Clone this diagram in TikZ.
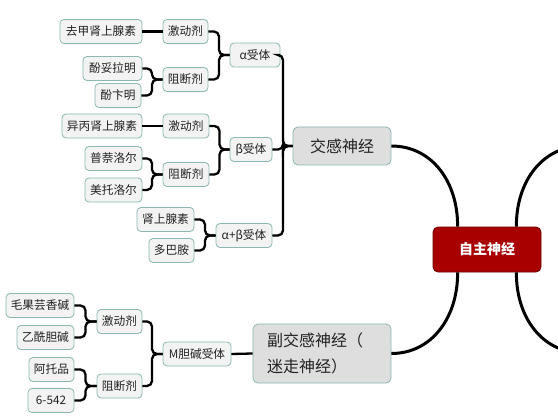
\documentclass[tikz,border=0pt]{standalone}
\usepackage{fontspec}
\setmainfont{Noto Sans CJK SC}
\definecolor{leaff}{HTML}{F3F3F3}
\definecolor{mainf}{HTML}{DEDEDE}
\definecolor{bordc}{HTML}{8CB8B2}
\definecolor{txt}{HTML}{222222}
\definecolor{redf}{HTML}{A80000}
\definecolor{redb}{HTML}{700000}
\begin{document}
\begin{tikzpicture}[x=1pt,y=-1pt,
  leaf/.style={draw=bordc, fill=leaff, rounded corners=4pt, line width=0.8pt, inner sep=0pt,
    minimum height=24pt, text=txt, font=\fontsize{11.7}{13}\selectfont},
  mainbox/.style={draw=bordc, fill=mainf, rounded corners=5pt, line width=0.8pt, inner sep=0pt,
    text=txt, font=\fontsize{16}{26}\selectfont},
  centerbox/.style={draw=redb, fill=redf, rounded corners=5pt, line width=0.8pt, inner sep=0pt,
    text=white, font=\fontsize{14}{16}\selectfont\bfseries},
  conn/.style={line width=2.3pt, rounded corners=5pt, black},
  bigconn/.style={line width=3pt, black}]
\useasboundingbox (0,0) rectangle (558,420);
\fill[white] (0,0) rectangle (558,420);
\clip (0,0) rectangle (558,420);

% alpha group
\node[leaf, minimum width=82] (nA1) at (101,31.5) {去甲肾上腺素};
\node[leaf, minimum width=45] (aAg) at (185.5,31.5) {激动剂};
\node[leaf, minimum width=50] (aR) at (255,55) {α受体};
\node[leaf, minimum width=59] (nA2) at (112.5,68.5) {酚妥拉明};
\node[leaf, minimum width=45] (aBl) at (185.5,79.5) {阻断剂};
\node[leaf, minimum width=46] (nA3) at (118,95.5) {酚卞明};
% beta group
\node[leaf, minimum width=80] (nB1) at (102,126) {异丙肾上腺素};
\node[leaf, minimum width=46] (bAg) at (186,126) {激动剂};
\node[leaf, minimum width=42] (bR) at (251,149.5) {β受体};
\node[leaf, minimum width=57] (nB2) at (113.5,158.5) {普萘洛尔};
\node[leaf, minimum width=46] (bBl) at (186,174.5) {阻断剂};
\node[leaf, minimum width=57] (nB3) at (113.5,190) {美托洛尔};
% alpha+beta group
\node[leaf, minimum width=57] (nC1) at (165.5,219.5) {肾上腺素};
\node[leaf, minimum width=56] (abR) at (244,235.5) {α+β受体};
\node[leaf, minimum width=45] (nC2) at (171.5,250.5) {多巴胺};
% M group
\node[leaf, minimum width=68] (nM1) at (40,305.5) {毛果芸香碱};
\node[leaf, minimum width=57] (nM2) at (45.5,337.5) {乙酰胆碱};
\node[leaf, minimum width=45] (mAg) at (119.5,321.5) {激动剂};
\node[leaf, minimum width=68] (mR) at (197,354) {M胆碱受体};
\node[leaf, minimum width=45] (nM3) at (51.5,369.5) {阿托品};
\node[leaf, minimum width=46] (nM4) at (51,400.5) {6-542};
\node[leaf, minimum width=45] (mBl) at (119.5,386) {阻断剂};
% main nodes
\node[mainbox, minimum width=98, minimum height=38] (sym) at (342,146) {交感神经};
\node[mainbox, text width=110, align=left, inner xsep=14pt, minimum height=59] (para) at (322,353.5) {副交感神经（\\迷走神经）};
\node[centerbox, minimum width=108, minimum height=45] (auto) at (487,249.5) {自主神经};

% bracket x positions
\coordinate (xA1) at (152,0);
\coordinate (xA2) at (219,0);
\coordinate (xB1) at (152,0);
\coordinate (xB2) at (219.5,0);
\coordinate (xC) at (205,0);
\coordinate (xS) at (283,0);
\coordinate (xM1) at (85.5,0);
\coordinate (xM2) at (152,0);

% alpha connectors
\draw[conn] (nA1.east) -- (aAg.west);
\draw[conn] (nA2.east) -| (xA1 |- aBl.west) -- (aBl.west);
\draw[conn] (nA3.east) -| (xA1 |- aBl.west) -- (aBl.west);
\draw[conn] (aAg.east) -| (xA2 |- aR.west) -- (aR.west);
\draw[conn] (aBl.east) -| (xA2 |- aR.west) -- (aR.west);
% beta connectors
\draw[conn] (nB1.east) -- (bAg.west);
\draw[conn] (nB2.east) -| (xB1 |- bBl.west) -- (bBl.west);
\draw[conn] (nB3.east) -| (xB1 |- bBl.west) -- (bBl.west);
\draw[conn] (bAg.east) -| (xB2 |- bR.west) -- (bR.west);
\draw[conn] (bBl.east) -| (xB2 |- bR.west) -- (bR.west);
% alpha+beta connectors
\draw[conn] (nC1.east) -| (xC |- abR.west) -- (abR.west);
\draw[conn] (nC2.east) -| (xC |- abR.west) -- (abR.west);
% receptors to sympathetic
\draw[conn] (aR.east) -| (xS |- sym.west) -- (sym.west);
\draw[conn] (bR.east) -| (xS |- sym.west) -- (sym.west);
\draw[conn] (abR.east) -| (xS |- sym.west) -- (sym.west);
% M connectors
\draw[conn] (nM1.east) -| (xM1 |- mAg.west) -- (mAg.west);
\draw[conn] (nM2.east) -| (xM1 |- mAg.west) -- (mAg.west);
\draw[conn] (nM3.east) -| (xM1 |- mBl.west) -- (mBl.west);
\draw[conn] (nM4.east) -| (xM1 |- mBl.west) -- (mBl.west);
\draw[conn] (mAg.east) -| (xM2 |- mR.west) -- (mR.west);
\draw[conn] (mBl.east) -| (xM2 |- mR.west) -- (mR.west);
\draw[conn] (mR.east) -- (para.west);

% main curves
\coordinate (rt) at (583,146);
\coordinate (rb) at (583,353);
\draw[bigconn] (sym.east) .. controls (432,146) and (458,182) .. ([xshift=25pt]auto.north west);
\draw[bigconn] (para.east) .. controls (432,353.5) and (458,317) .. ([xshift=25pt]auto.south west);
\draw[bigconn] ([xshift=-25pt]auto.north east) .. controls (516,182) and (542,146) .. (rt);
\draw[bigconn] ([xshift=-25pt]auto.south east) .. controls (516,317) and (542,353) .. (rb);
\end{tikzpicture}
\end{document}
